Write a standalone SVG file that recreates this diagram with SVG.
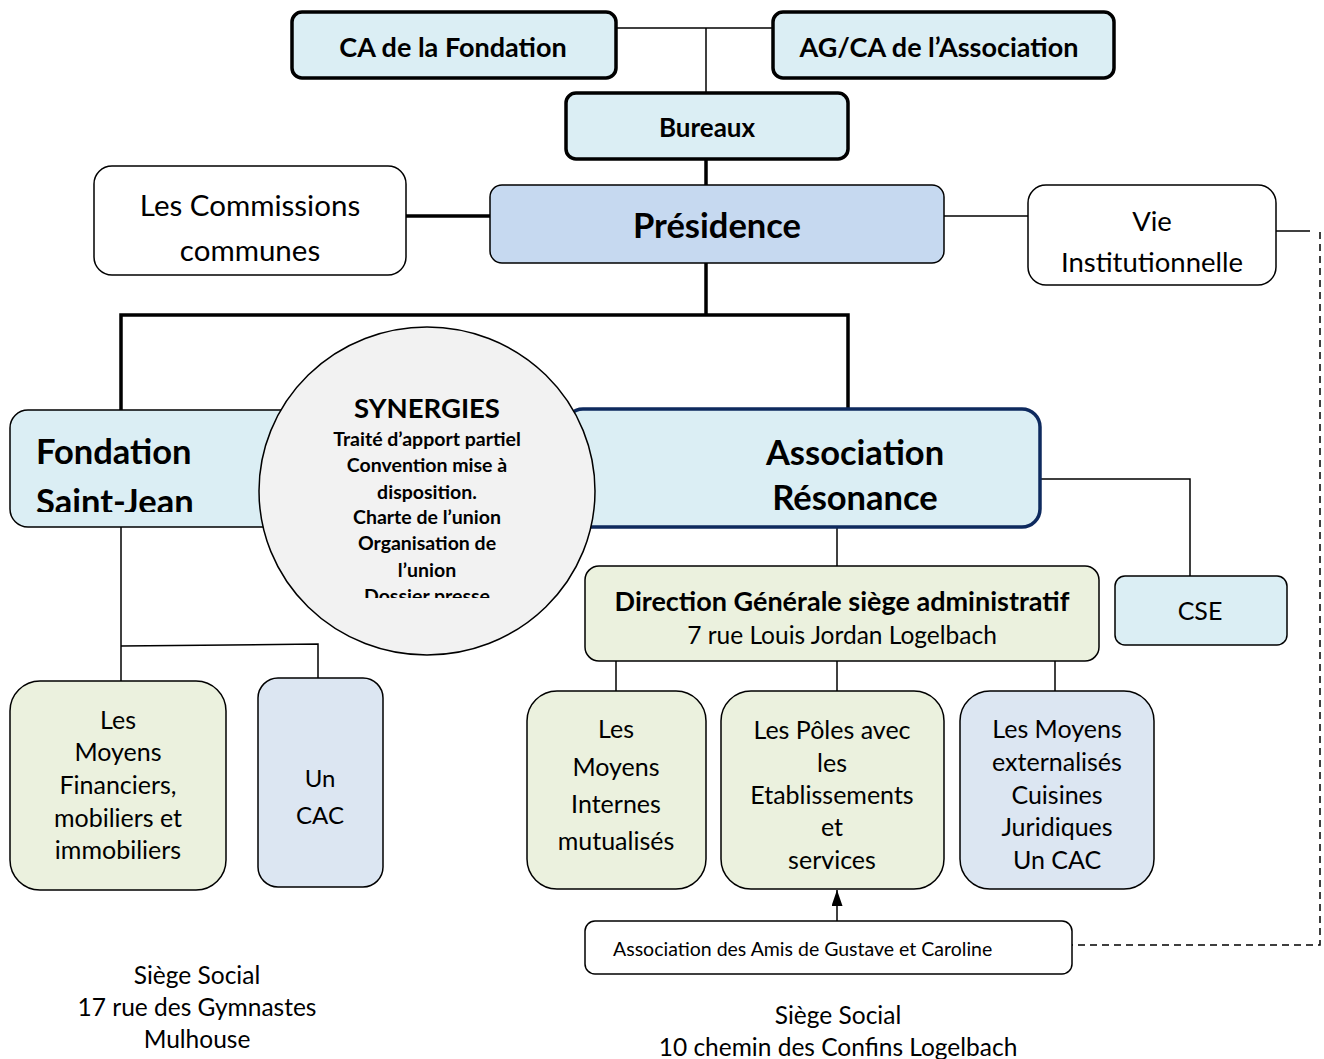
<svg xmlns="http://www.w3.org/2000/svg" width="1324" height="1059" viewBox="0 0 1324 1059">
<style>
text{font-family:Lato,"Open Sans","Liberation Sans",sans-serif;fill:#000;text-anchor:middle;dominant-baseline:central}
.b{font-weight:bold}
.box{stroke:#000;stroke-width:1.5}
.thick{stroke:#000;stroke-width:3.5}
.blue{fill:#dbeef4}
.pres{fill:#c6d9f0}
.green{fill:#ebf1de}
.lav{fill:#dce6f2}
.white{fill:#fff}
.ln{stroke:#000;stroke-width:1.5;fill:none}
.lnT{stroke:#000;stroke-width:3.5;fill:none}
</style>
<defs>
<marker id="arr" viewBox="0 0 16 11" refX="16" refY="5.5" markerWidth="16" markerHeight="11" orient="auto" markerUnits="userSpaceOnUse">
<path d="M0,0 L16,5.5 L0,11 z" fill="#000"/>
</marker>
<clipPath id="clipF"><rect x="10" y="410" width="290" height="102"/></clipPath>
<clipPath id="clipS"><rect x="250" y="320" width="360" height="278"/></clipPath>
</defs>
<rect width="1324" height="1059" fill="#fff"/>

<g id="connectors">
<polyline class="ln" points="616,28 773,28"/>
<polyline class="ln" points="706,28 706,93"/>
<polyline class="lnT" points="706,159 706,185"/>
<polyline class="lnT" points="406,216 490,216"/>
<polyline class="ln" points="944,216 1028,216"/>
<polyline class="ln" points="1276,231 1310,231"/>
<polyline class="ln" points="1320,232 1320,945 1072,945" stroke-dasharray="7,5"/>
<polyline class="lnT" points="706,263 706,315"/>
<polyline class="lnT" points="121,410 121,315 848,315 848,410"/>
<polyline class="ln" points="121,527 121,681"/>
<polyline class="ln" points="121,646 318,644 318,678"/>
<polyline class="ln" points="837,527 837,566"/>
<polyline class="ln" points="1040,479 1190,479 1190,576"/>
<polyline class="ln" points="616,661 616,691"/>
<polyline class="ln" points="837,661 837,691"/>
<polyline class="ln" points="1055,661 1055,691"/>
<line class="ln" x1="837" y1="921" x2="837" y2="890" marker-end="url(#arr)"/>
</g>

<g id="ca-fondation">
<rect class="blue thick" x="292" y="12" width="324" height="66" rx="10"/>
<text class="b" x="453" y="46" font-size="27">CA de la Fondation</text>
</g>
<g id="ag-association">
<rect class="blue thick" x="773" y="12" width="341" height="66" rx="10"/>
<text class="b" x="939" y="46" font-size="27">AG/CA de l’Association</text>
</g>
<g id="bureaux">
<rect class="blue thick" x="566" y="93" width="282" height="66" rx="10"/>
<text class="b" x="707" y="127" font-size="26">Bureaux</text>
</g>
<g id="presidence">
<rect class="pres box" x="490" y="185" width="454" height="78" rx="12"/>
<text class="b" x="717" y="224" font-size="34.5">Présidence</text>
</g>
<g id="commissions">
<rect class="white box" x="94" y="166" width="312" height="109" rx="18"/>
<text x="250" y="204" font-size="29.5">Les Commissions</text>
<text x="250" y="249" font-size="29.5">communes</text>
</g>
<g id="vie-institutionnelle">
<rect class="white box" x="1028" y="185" width="248" height="100" rx="18"/>
<text x="1152" y="220" font-size="27.5">Vie</text>
<text x="1152" y="261" font-size="27.5">Institutionnelle</text>
</g>
<g id="fondation">
<rect class="blue box" x="10" y="410" width="290" height="117" rx="18"/>
<g clip-path="url(#clipF)">
<text class="b" x="36" y="450" font-size="34.5" style="text-anchor:start">Fondation</text>
<text class="b" x="36" y="500" font-size="34.5" style="text-anchor:start">Saint-Jean</text>
</g>
</g>
<g id="association">
<rect class="blue" x="565" y="409" width="475" height="118" rx="18" stroke="#0e2a5e" stroke-width="3.5"/>
<text class="b" x="855" y="451" font-size="34.5">Association</text>
<text class="b" x="855" y="496" font-size="34.5">Résonance</text>
</g>
<g id="synergies">
<ellipse cx="427" cy="491" rx="168" ry="164" fill="#f2f2f2" stroke="#000" stroke-width="1.5"/>
<g clip-path="url(#clipS)">
<text class="b" x="427" y="407" font-size="27.5">SYNERGIES</text>
<text class="b" x="427" y="438" font-size="19.5">Traité d’apport partiel</text>
<text class="b" x="427" y="464" font-size="19.5">Convention mise à</text>
<text class="b" x="427" y="491" font-size="19.5">disposition.</text>
<text class="b" x="427" y="516" font-size="19.5">Charte de l’union</text>
<text class="b" x="427" y="542" font-size="19.5">Organisation de</text>
<text class="b" x="427" y="569" font-size="19.5">l’union</text>
<text class="b" x="427" y="595" font-size="19.5">Dossier presse</text>
</g>
</g>
<g id="moyens-financiers">
<rect class="green box" x="10" y="681" width="216" height="209" rx="30"/>
<text x="118" y="719" font-size="25">Les</text>
<text x="118" y="751" font-size="25">Moyens</text>
<text x="118" y="784" font-size="25">Financiers,</text>
<text x="118" y="817" font-size="25">mobiliers et</text>
<text x="118" y="849" font-size="25">immobiliers</text>
</g>
<g id="un-cac-fondation">
<rect class="lav box" x="258" y="678" width="125" height="209" rx="20"/>
<text x="320" y="777" font-size="24">Un</text>
<text x="320" y="814" font-size="24">CAC</text>
</g>
<g id="cse">
<rect class="blue box" x="1115" y="576" width="172" height="69" rx="10"/>
<text x="1200" y="610" font-size="25">CSE</text>
</g>
<g id="direction-generale">
<rect class="green box" x="585" y="566" width="514" height="95" rx="14"/>
<text class="b" x="842" y="600" font-size="27">Direction Générale siège administratif</text>
<text x="842" y="634" font-size="24.5">7 rue Louis Jordan Logelbach</text>
</g>
<g id="moyens-internes">
<rect class="green box" x="527" y="691" width="179" height="198" rx="30"/>
<text x="616" y="728" font-size="25">Les</text>
<text x="616" y="766" font-size="25">Moyens</text>
<text x="616" y="803" font-size="25">Internes</text>
<text x="616" y="840" font-size="25">mutualisés</text>
</g>
<g id="poles">
<rect class="green box" x="721" y="691" width="223" height="198" rx="30"/>
<text x="832" y="729" font-size="25">Les Pôles avec</text>
<text x="832" y="762" font-size="25">les</text>
<text x="832" y="794" font-size="25">Etablissements</text>
<text x="832" y="826" font-size="25">et</text>
<text x="832" y="859" font-size="25">services</text>
</g>
<g id="moyens-externalises">
<rect class="lav box" x="960" y="691" width="194" height="198" rx="30"/>
<text x="1057" y="728" font-size="25">Les Moyens</text>
<text x="1057" y="761" font-size="25">externalisés</text>
<text x="1057" y="794" font-size="25">Cuisines</text>
<text x="1057" y="826" font-size="25">Juridiques</text>
<text x="1057" y="859" font-size="25">Un CAC</text>
</g>
<g id="amis-gustave">
<rect class="white box" x="585" y="921" width="487" height="53" rx="10"/>
<text x="613" y="948" font-size="19.5" style="text-anchor:start">Association des Amis de Gustave et Caroline</text>
</g>
<g id="siege-fondation">
<text x="197" y="974" font-size="24.5">Siège Social</text>
<text x="197" y="1006" font-size="24.5">17 rue des Gymnastes</text>
<text x="197" y="1038" font-size="24.5">Mulhouse</text>
</g>
<g id="siege-association">
<text x="838" y="1014" font-size="24.5">Siège Social</text>
<text x="838" y="1046" font-size="24.5">10 chemin des Confins Logelbach</text>
</g>
</svg>
